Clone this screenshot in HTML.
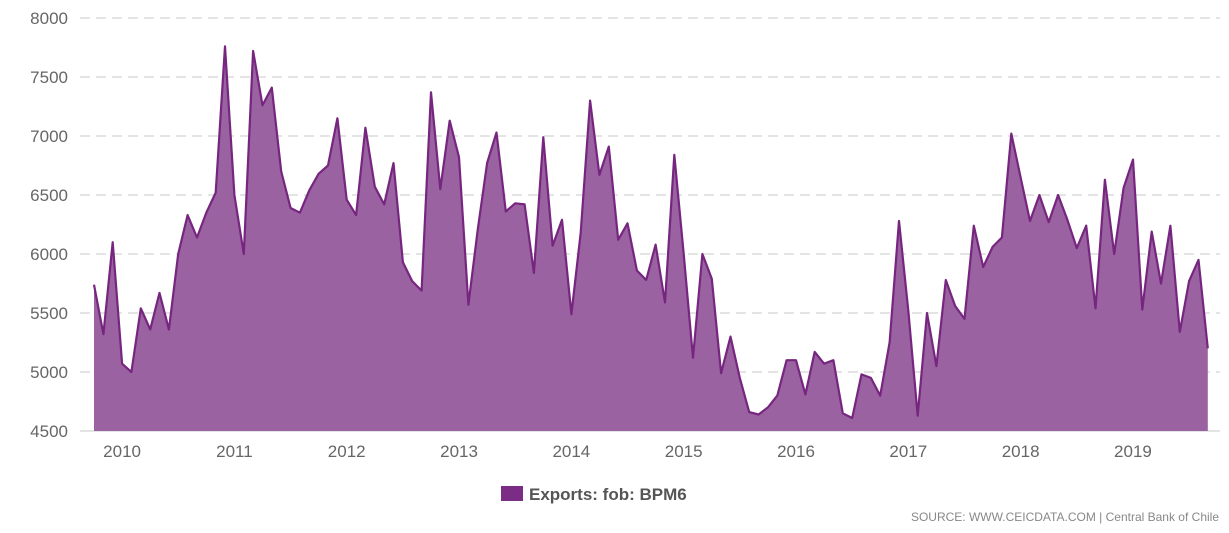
<!DOCTYPE html>
<html><head><meta charset="utf-8"><style>
html,body{margin:0;padding:0;background:#fff;}
body{width:1229px;height:528px;overflow:hidden;font-family:"Liberation Sans",sans-serif;}
</style></head><body>
<svg id="chart" width="1229" height="528" xmlns="http://www.w3.org/2000/svg">
<g id="grid"></g>
<g id="yaxis"></g>
<g id="xaxis"></g>
<g id="series"></g>
<g>
<rect x="501" y="486" width="22" height="15" fill="#7b2d85"/>
<text x="529" y="500" font-size="17" font-weight="bold" fill="#555">Exports: fob: BPM6</text>
</g>
<text x="1219" y="521" text-anchor="end" font-size="12" fill="#888">SOURCE: WWW.CEICDATA.COM | Central Bank of Chile</text>
</svg>
<script>
const yTicks=[4500,5000,5500,6000,6500,7000,7500,8000];
const xYears=["2010","2011","2012","2013","2014","2015","2016","2017","2018","2019"];
const startMonthIndex=9; // Oct 2009 (months since Jan 2009)
const values=[5740,5320,6100,5070,5000,5540,5360,5670,5360,6000,6330,6140,6350,6520,7760,6500,6000,7720,7260,7410,6700,6390,6350,6540,6680,6750,7150,6460,6330,7070,6570,6420,6770,5930,5770,5690,7370,6550,7130,6820,5570,6210,6770,7030,6360,6430,6420,5840,6990,6070,6290,5490,6180,7300,6670,6910,6120,6260,5860,5780,6080,5590,6840,6000,5120,6000,5790,4990,5300,4950,4660,4640,4700,4800,5100,5100,4810,5170,5070,5100,4650,4610,4980,4950,4800,5250,6280,5520,4630,5500,5050,5780,5560,5450,6240,5890,6060,6140,7020,6650,6280,6500,6270,6500,6290,6050,6240,5540,6630,6000,6560,6800,5530,6190,5750,6240,5340,5770,5950,5200];
const NS="http://www.w3.org/2000/svg";
const x0=94,dx=9.36,yTop=18,yBot=431,vMin=4500,vMax=8000;
const X=m=>x0+(m-startMonthIndex)*dx;
const Y=v=>yBot-(v-vMin)/(vMax-vMin)*(yBot-yTop);
function mk(tag,attrs,parent){const e=document.createElementNS(NS,tag);for(const k in attrs)e.setAttribute(k,attrs[k]);parent.appendChild(e);return e;}
const grid=document.getElementById('grid'),ya=document.getElementById('yaxis'),xa=document.getElementById('xaxis'),se=document.getElementById('series');
yTicks.forEach(t=>{
 const l=mk('line',{x1:80,x2:1220,y1:Y(t),y2:Y(t),stroke:'#dcdcdc','stroke-width':1.5,'stroke-dasharray':t===vMin?'none':'10,6'},grid);
 
 
 const tx=mk('text',{x:68,y:Y(t)+6,'text-anchor':'end','font-size':17,fill:'#666'},ya);
 tx.textContent=t;
 
 
});
xYears.forEach((yr,i)=>{
 const tx=mk('text',{x:X(12+12*i),y:457,'text-anchor':'middle','font-size':17,fill:'#666'},xa);
 tx.textContent=yr;
 
 
});
const pts=values.map((v,i)=>[X(startMonthIndex+i),Y(v)]);
const line=pts.map((p,i)=>(i?'L':'M')+p[0].toFixed(1)+','+p[1].toFixed(1)).join('');
const area=line+'L'+pts[pts.length-1][0].toFixed(1)+','+yBot+'L'+pts[0][0].toFixed(1)+','+yBot+'Z';
const a=mk('path',{d:area,fill:'#9a62a0'},se);


const ln=mk('path',{d:line,fill:'none',stroke:'#76267f','stroke-width':2.2,'stroke-linejoin':'round'},se);


</script>
</body></html>
